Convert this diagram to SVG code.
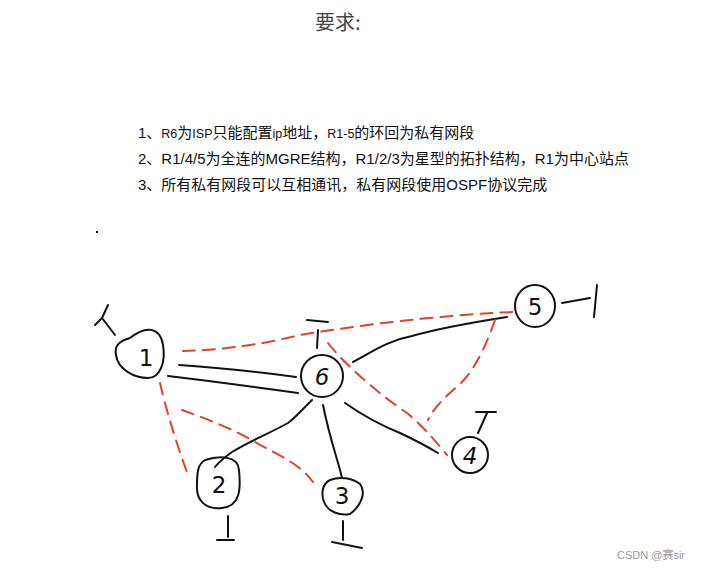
<svg xmlns="http://www.w3.org/2000/svg" width="701" height="573" viewBox="0 0 701 573">
<style>
.bg{fill:#fff}
.title{font-family:"Noto Sans CJK SC","Liberation Sans",sans-serif;font-size:20px;fill:#444}
.req{font-family:"Liberation Sans","Noto Sans CJK SC",sans-serif;font-size:15px;fill:#111}
.sm{font-size:12.5px}
.ink{fill:none;stroke:#111;stroke-width:2;stroke-linecap:round;stroke-linejoin:round}
.red{fill:none;stroke:#e2412c;stroke-width:2;stroke-dasharray:12 8;stroke-linecap:round}
.num{font-family:"DejaVu Sans","Liberation Sans",sans-serif;font-size:23px;fill:#111;text-anchor:middle}
.wm{font-family:"Liberation Sans","Noto Sans CJK SC",sans-serif;font-size:11px;fill:#999}
</style>
<rect class="bg" width="701" height="573"/>
<text class="title" x="315" y="30">要求:</text>
<text class="req" x="138" y="138">1、<tspan class="sm">R6</tspan>为<tspan class="sm">ISP</tspan>只能配置<tspan class="sm">ip</tspan>地址，<tspan class="sm">R1-5</tspan>的环回为私有网段</text>
<text class="req" x="138" y="164">2、R1/4/5为全连的MGRE结构，R1/2/3为星型的拓扑结构，R1为中心站点</text>
<text class="req" x="138" y="190">3、所有私有网段可以互相通讯，私有网段使用OSPF协议完成</text>
<rect x="96" y="231" width="2" height="2" fill="#111"/>

<g id="connectors">
  <path class="ink" d="M179 365 C220 368 260 372 296 377"/>
  <path class="ink" d="M168 376 C210 381 255 387 298 393"/>
  <path class="ink" d="M353 362 C375 350 390 340 412 336 C440 328 475 322 507 317"/>
  <path class="ink" d="M345 403 C365 417 385 427 400 433 C415 440 428 447 438 453"/>
  <path class="ink" d="M312 400 C300 412 295 418 288 423 C270 433 250 441 232 452 C225 457 219 462 215 467"/>
  <path class="ink" d="M323 405 C330 440 338 460 342 478"/>
  <path class="red" d="M183 351 C220 350 260 345 300 335 C360 325 440 315 513 312"/>
  <path class="red" d="M160 383 C165 405 175 440 188 475"/>
  <path class="red" d="M182 410 C210 420 240 432 260 445 C285 458 300 465 313 482"/>
  <path class="red" d="M328 343 C345 365 380 395 407 413 C425 428 437 443 447 455"/>
  <path class="red" d="M495 320 C488 340 478 365 462 382 C448 395 435 405 428 420"/>
</g>

<g id="node1">
  <path class="ink" d="M130 338 C145 326 160 326 163 345 C166 362 160 378 148 378 C135 378 118 370 116 355 C114 345 120 341 130 338 Z"/>
  <text class="num" x="146" y="366">1</text>
  <path class="ink" d="M108 305 L102 318 L95 325 M102 318 L115 335"/>
</g>
<g id="node6">
  <circle class="ink" cx="322" cy="376" r="21"/>
  <text class="num" x="322" y="385" font-style="italic">6</text>
  <path class="ink" d="M307 320 L328 322 M318 330 L317 348"/>
</g>
<g id="node5">
  <ellipse class="ink" cx="535" cy="306" rx="20" ry="21"/>
  <text class="num" x="535" y="315">5</text>
  <path class="ink" d="M562 303 L590 298 M597 285 L594 317"/>
</g>
<g id="node4">
  <circle class="ink" cx="470" cy="455" r="18"/>
  <text class="num" x="470" y="464" font-style="italic">4</text>
  <path class="ink" d="M476 412 L496 412 M487 413 L478 433"/>
</g>
<g id="node2">
  <path class="ink" d="M205 460 C220 455 238 456 239 470 C241 490 240 506 222 508 C205 510 196 500 197 485 C197 472 198 464 205 460 Z"/>
  <text class="num" x="219" y="493">2</text>
  <path class="ink" d="M228 516 L228 537 M217 540 L234 540"/>
</g>
<g id="node3">
  <path class="ink" d="M330 480 C340 476 352 478 360 484 C366 492 362 505 350 514 C340 516 328 512 324 502 C321 494 322 484 330 480 Z"/>
  <text class="num" x="342" y="504">3</text>
  <path class="ink" d="M343 521 L343 540 M332 542 L362 548"/>
</g>

<text class="wm" x="617" y="559">CSDN @赛sir</text>
</svg>
